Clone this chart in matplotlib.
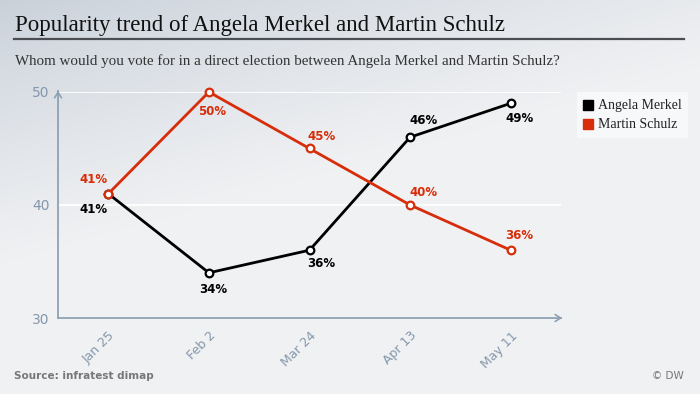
import numpy as np
import matplotlib.pyplot as plt
from matplotlib.colors import to_rgb

dates = ["Jan 25", "Feb 2", "Mar 24", "Apr 13", "May 11"]
merkel = [41, 34, 36, 46, 49]
schulz = [41, 50, 45, 40, 36]
y_ticks = [30, 40, 50]

BLACK = "#000000"
RED = "#d72d0a"
AXIS = "#8fa2b3"
TICK = "#8497ab"

# label offsets in pixels (dx, dy), dy positive = up
merkel_off = [(-15, -16), (4, -17), (12, -13), (13, 17), (9, -15)]
schulz_off = [(-15, 14), (3, -20), (12, 12), (13, 12), (9, 15)]

fig = plt.figure(figsize=(7, 3.94), dpi=100)

# background gradient
bg = fig.add_axes([0, 0, 1, 1], zorder=-10)
h, w = 200, 350
yy, xx = np.mgrid[0:1:h * 1j, 0:1:w * 1j]
t = np.clip(1.5 * yy + 0.75 * xx, 0, 1) ** 0.8
c0 = np.array(to_rgb("#c8d0d9"))
c1 = np.array(to_rgb("#f0f1f3"))
img = c0[None, None, :] + (c1 - c0)[None, None, :] * t[..., None]
bg.imshow(img, aspect="auto", extent=[0, 1, 0, 1], origin="upper")
bg.axis("off")

# title block
fig.text(15 / 700, 1 - 31 / 394, "Popularity trend of Angela Merkel and Martin Schulz",
         family="Liberation Serif", fontsize=16.5, color="#111111", va="baseline")
fig.add_artist(plt.Line2D([14 / 700, 684 / 700], [1 - 39 / 394] * 2,
                          color="#4a4d52", lw=1.6, transform=fig.transFigure))
fig.text(15 / 700, 1 - 65 / 394,
         "Whom would you vote for in a direct election between Angela Merkel and Martin Schulz?",
         family="Liberation Serif", fontsize=10.8, color="#333333", va="baseline")

ax = fig.add_axes([58 / 700, 1 - 318 / 394, 503 / 700, 226 / 394])
ax.set_facecolor("none")
x = np.arange(len(dates))
ax.set_xlim(-0.5, 4.5)
ax.set_ylim(30, 50)

for yv in y_ticks[1:]:
    ax.axhline(yv, color="white", lw=1.3, zorder=1)

for vals, col, offs in [(merkel, BLACK, merkel_off), (schulz, RED, schulz_off)]:
    ax.plot(x, vals, color=col, lw=2.0, zorder=3, clip_on=False,
            marker="o", ms=5.5, mfc="white", mec=col, mew=1.6)
    for xi, v, (dx, dy) in zip(x, vals, offs):
        ax.annotate(f"{v}%", (xi, v), xytext=(dx, dy), textcoords="offset pixels",
                    ha="center", va="center", fontsize=8.5, fontweight="bold",
                    color=col, family="Liberation Sans Narrow")

for s in ["top", "right"]:
    ax.spines[s].set_visible(False)
for s in ["left", "bottom"]:
    ax.spines[s].set_color(AXIS)
    ax.spines[s].set_linewidth(1.3)
ax.annotate("", xy=(1.008, 0), xytext=(0.99, 0), xycoords="axes fraction",
            arrowprops=dict(arrowstyle="->,head_length=0.4,head_width=0.25", color=AXIS, lw=1.2))
ax.annotate("", xy=(0, 1.018), xytext=(0, 0.99), xycoords="axes fraction",
            arrowprops=dict(arrowstyle="->,head_length=0.4,head_width=0.25", color=AXIS, lw=1.2))

ax.set_yticks(y_ticks)
ax.set_yticklabels([str(v) for v in y_ticks], color=TICK, fontsize=10)
ax.tick_params(axis="y", length=0, pad=6)
ax.set_xticks(x)
ax.set_xticklabels(dates, rotation=45, ha="right", rotation_mode="anchor",
                   color=TICK, fontsize=9, family="Liberation Sans Narrow")
ax.tick_params(axis="x", length=0, pad=8)

# legend
leg = fig.add_axes([577 / 700, 1 - 138 / 394, 111 / 700, 46 / 394])
leg.set_facecolor("#f7f8fa")
leg.set_xlim(0, 111)
leg.set_ylim(46, 0)
leg.set_xticks([])
leg.set_yticks([])
for s in leg.spines.values():
    s.set_visible(False)
for yv, name, col in [(13, "Angela Merkel", BLACK), (32, "Martin Schulz", RED)]:
    leg.plot(11, yv, marker="s", ms=6.5, color=col)
    leg.text(21, yv, name, va="center", fontsize=10, family="Liberation Serif", color="#222222")

fig.text(14 / 700, 1 - 376 / 394, "Source: infratest dimap", fontsize=7.5,
         fontweight="bold", color="#777777", va="center", family="Liberation Sans Narrow")
fig.text(684 / 700, 1 - 376 / 394, "© DW", fontsize=7.5,
         color="#777777", va="center", ha="right", family="Liberation Sans Narrow")

fig.savefig("out.png", dpi=100)
